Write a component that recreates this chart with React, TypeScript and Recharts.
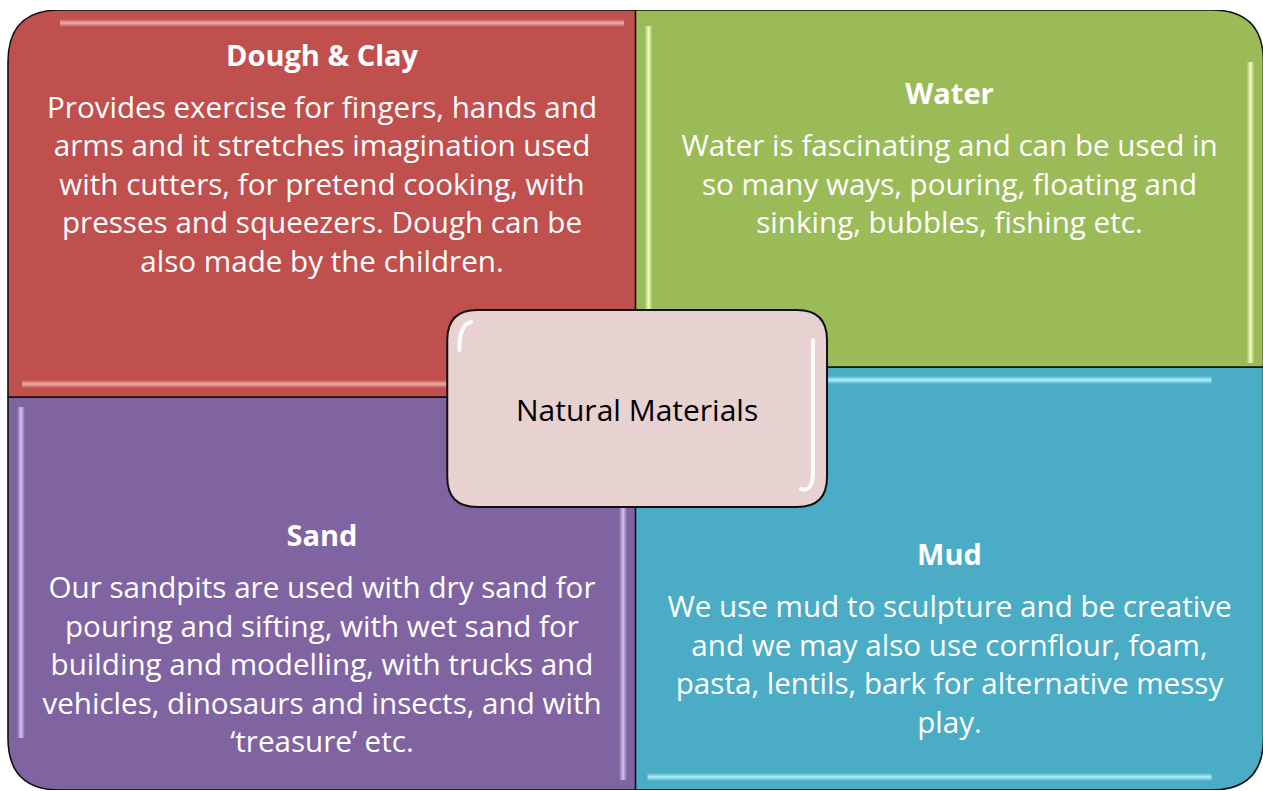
import { BarChart, Bar, XAxis, YAxis, ReferenceArea } from "recharts";

// quadrant layout: two columns, each stacked bottom + top
const categories = ["left", "right"];
const bottomValues = [393, 423];
const topValues = [387, 357];

const topColors = ["#C0504D", "#9BBB59"];
const bottomColors = ["#8064A2", "#4BACC6"];
const topGlow = ["#F6B3B1", "#F3FFC2"];
const bottomGlow = ["#D9C8F2", "#B6F3FF"];

const topTitles = ["Dough & Clay", "Water"];
const topBodies = [
  [
    "Provides exercise for fingers, hands and",
    "arms and it stretches imagination used",
    "with cutters, for pretend cooking, with",
    "presses and squeezers.  Dough can be",
    "also made by the children.",
  ],
  [
    "Water is fascinating and can be used in",
    "so many ways, pouring, floating and",
    "sinking, bubbles, fishing etc.",
  ],
];
const bottomTitles = ["Sand", "Mud"];
const bottomBodies = [
  [
    "Our sandpits are used with dry sand for",
    "pouring and sifting, with wet sand for",
    "building and modelling, with trucks and",
    "vehicles, dinosaurs and insects, and with",
    "\u2018treasure\u2019 etc.",
  ],
  [
    "We use mud to sculpture and be creative",
    "and we may also use cornflour, foam,",
    "pasta, lentils, bark for alternative messy",
    "play.",
  ],
];

const centerLabel = "Natural Materials";
// center box, as a share of the full width and in chart height units
const centerX = [0.35, 0.6526];
const centerY = [283, 480];

const data = categories.map((name, i) => ({
  name,
  bottom: bottomValues[i],
  top: topValues[i],
}));

const FONT = "'Open Sans', sans-serif";
const R = 52;

function roundedPath(x: number, y: number, w: number, h: number, r: number[]) {
  const [tl, tr, br, bl] = r;
  return `M${x + tl},${y} L${x + w - tr},${y} Q${x + w},${y} ${x + w},${y + tr}
    L${x + w},${y + h - br} Q${x + w},${y + h} ${x + w - br},${y + h}
    L${x + bl},${y + h} Q${x},${y + h} ${x},${y + h - bl}
    L${x},${y + tl} Q${x},${y} ${x + tl},${y} Z`;
}

function TextBlock({ cx, mid, title, lines }: any) {
  const gap = 52;
  const lh = 38.5;
  const blockH = gap + (lines.length - 1) * lh;
  const start = mid - blockH / 2 - 3;
  return (
    <g>
      <text x={cx} y={start} textAnchor="middle" dominantBaseline="central" fill="#fff" fontFamily={FONT} fontSize={29} fontWeight={700}>
        {title}
      </text>
      {lines.map((l: string, k: number) => (
        <text key={k} x={cx} y={start + gap + k * lh} textAnchor="middle" dominantBaseline="central" fill="#fff" fontFamily={FONT} fontSize={29.6}>
          {l}
        </text>
      ))}
    </g>
  );
}

function Glow({ x, y, w, h, vertical, color, id }: any) {
  return (
    <g>
      <defs>
        <linearGradient id={id} x1="0" y1="0" x2={vertical ? 1 : 0} y2={vertical ? 0 : 1}>
          <stop offset="0" stopColor={color} stopOpacity={0} />
          <stop offset="0.5" stopColor={color} stopOpacity={0.95} />
          <stop offset="1" stopColor={color} stopOpacity={0} />
        </linearGradient>
      </defs>
      <rect x={x} y={y} width={w} height={h} fill={`url(#${id})`} />
    </g>
  );
}

function makeQuadrant(part: "top" | "bottom") {
  return (props: any) => {
    const { x, y, width, height, payload } = props;
    const i = categories.indexOf(payload?.name);
    if (i < 0 || !width || !height) return <g />;
    const left = i === 0;
    let radii: number[];
    if (part === "top") radii = left ? [R, 0, 0, 0] : [0, R, 0, 0];
    else radii = left ? [0, 0, 0, R] : [0, 0, R, 0];
    const fill = part === "top" ? topColors[i] : bottomColors[i];
    const glow = part === "top" ? topGlow[i] : bottomGlow[i];
    // red + blue have horizontal highlights, green + purple vertical
    const vertical = (part === "top") !== left;
    const inset = 9;
    const t = 8;
    let glows;
    if (vertical) {
      const y0 = part === "top" ? y + 16 : y + 10;
      const h0 = height - R - 10;
      glows = [
        <Glow key="a" id={`g-${part}-${i}-a`} x={x + inset} y={y0} w={t} h={part === "top" ? height - 20 : h0} vertical color={glow} />,
        <Glow key="b" id={`g-${part}-${i}-b`} x={x + width - inset - t} y={part === "top" ? y + R : y0} w={t} h={part === "top" ? height - R - 4 : height - 20} vertical color={glow} />,
      ];
    } else {
      glows = [
        <Glow key="a" id={`g-${part}-${i}-a`} x={x + (left ? R : 12)} y={y + inset} w={width - R - 12} h={t} color={glow} />,
        <Glow key="b" id={`g-${part}-${i}-b`} x={x + (left ? 14 : 12)} y={y + height - inset - t} w={width - R - 12} h={t} color={glow} />,
      ];
    }
    let mid: number;
    if (part === "top") {
      const k = height / topValues[i];
      const cTop = y + height + bottomValues[i] * k - centerY[1] * k;
      mid = (y + cTop) / 2;
    } else {
      const k = height / bottomValues[i];
      const bottomPx = y + height;
      const cBot = bottomPx - centerY[0] * k;
      mid = (cBot + bottomPx) / 2 - 8;
    }
    const title = part === "top" ? topTitles[i] : bottomTitles[i];
    const lines = part === "top" ? topBodies[i] : bottomBodies[i];
    return (
      <g>
        <path d={roundedPath(x, y, width, height, radii)} fill={fill} />
        {glows}
        <path d={roundedPath(x, y, width, height, radii)} fill="none" stroke="#111" strokeWidth={1.6} />
        <TextBlock cx={x + width / 2} mid={mid} title={title} lines={lines} />
      </g>
    );
  };
}

function CenterBox(props: any) {
  const { x, y, width, height } = props;
  if (!width || !height) return <g />;
  const r = 30;
  return (
    <g>
      <path d={roundedPath(x, y, width, height, [r, r, r, r])} fill="#E8D1D1" stroke="#111" strokeWidth={2} />
      <path
        d={`M${x + width - 14},${y + r} L${x + width - 14},${y + height - r - 6} Q${x + width - 14},${y + height - 14} ${x + width - 26},${y + height - 18}`}
        fill="none" stroke="#fff" strokeWidth={4} strokeLinecap="round" opacity={0.9}
      />
      <path
        d={`M${x + 12},${y + r + 10} Q${x + 12},${y + 14} ${x + 24},${y + 12}`}
        fill="none" stroke="#fff" strokeWidth={4} strokeLinecap="round" opacity={0.9}
      />
      <text x={x + width / 2} y={y + height / 2 + 1} textAnchor="middle" dominantBaseline="central" fill="#000" fontFamily={FONT} fontSize={30}>
        {centerLabel}
      </text>
    </g>
  );
}

export default function App() {
  return (
    <div style={{ position: "absolute", left: 0, top: 0, width: 1263, height: 791, background: "#fff" }}>
      <BarChart
        width={1263}
        height={791}
        data={data}
        margin={{ top: 10, right: 0, bottom: 1, left: 8 }}
        barCategoryGap={0}
        barGap={0}
      >
        <XAxis xAxisId="cat" dataKey="name" hide />
        <XAxis xAxisId="pos" type="number" domain={[0, 1]} hide allowDataOverflow />
        <YAxis type="number" domain={[0, 780]} hide allowDataOverflow />
        <Bar xAxisId="cat" dataKey="bottom" stackId="q" shape={makeQuadrant("bottom")} isAnimationActive={false} />
        <Bar xAxisId="cat" dataKey="top" stackId="q" shape={makeQuadrant("top")} isAnimationActive={false} />
        <ReferenceArea
          xAxisId="pos"
          x1={centerX[0]}
          x2={centerX[1]}
          y1={centerY[0]}
          y2={centerY[1]}
          shape={CenterBox}
          zIndex={2000}
          ifOverflow="visible"
        />
      </BarChart>
    </div>
  );
}
